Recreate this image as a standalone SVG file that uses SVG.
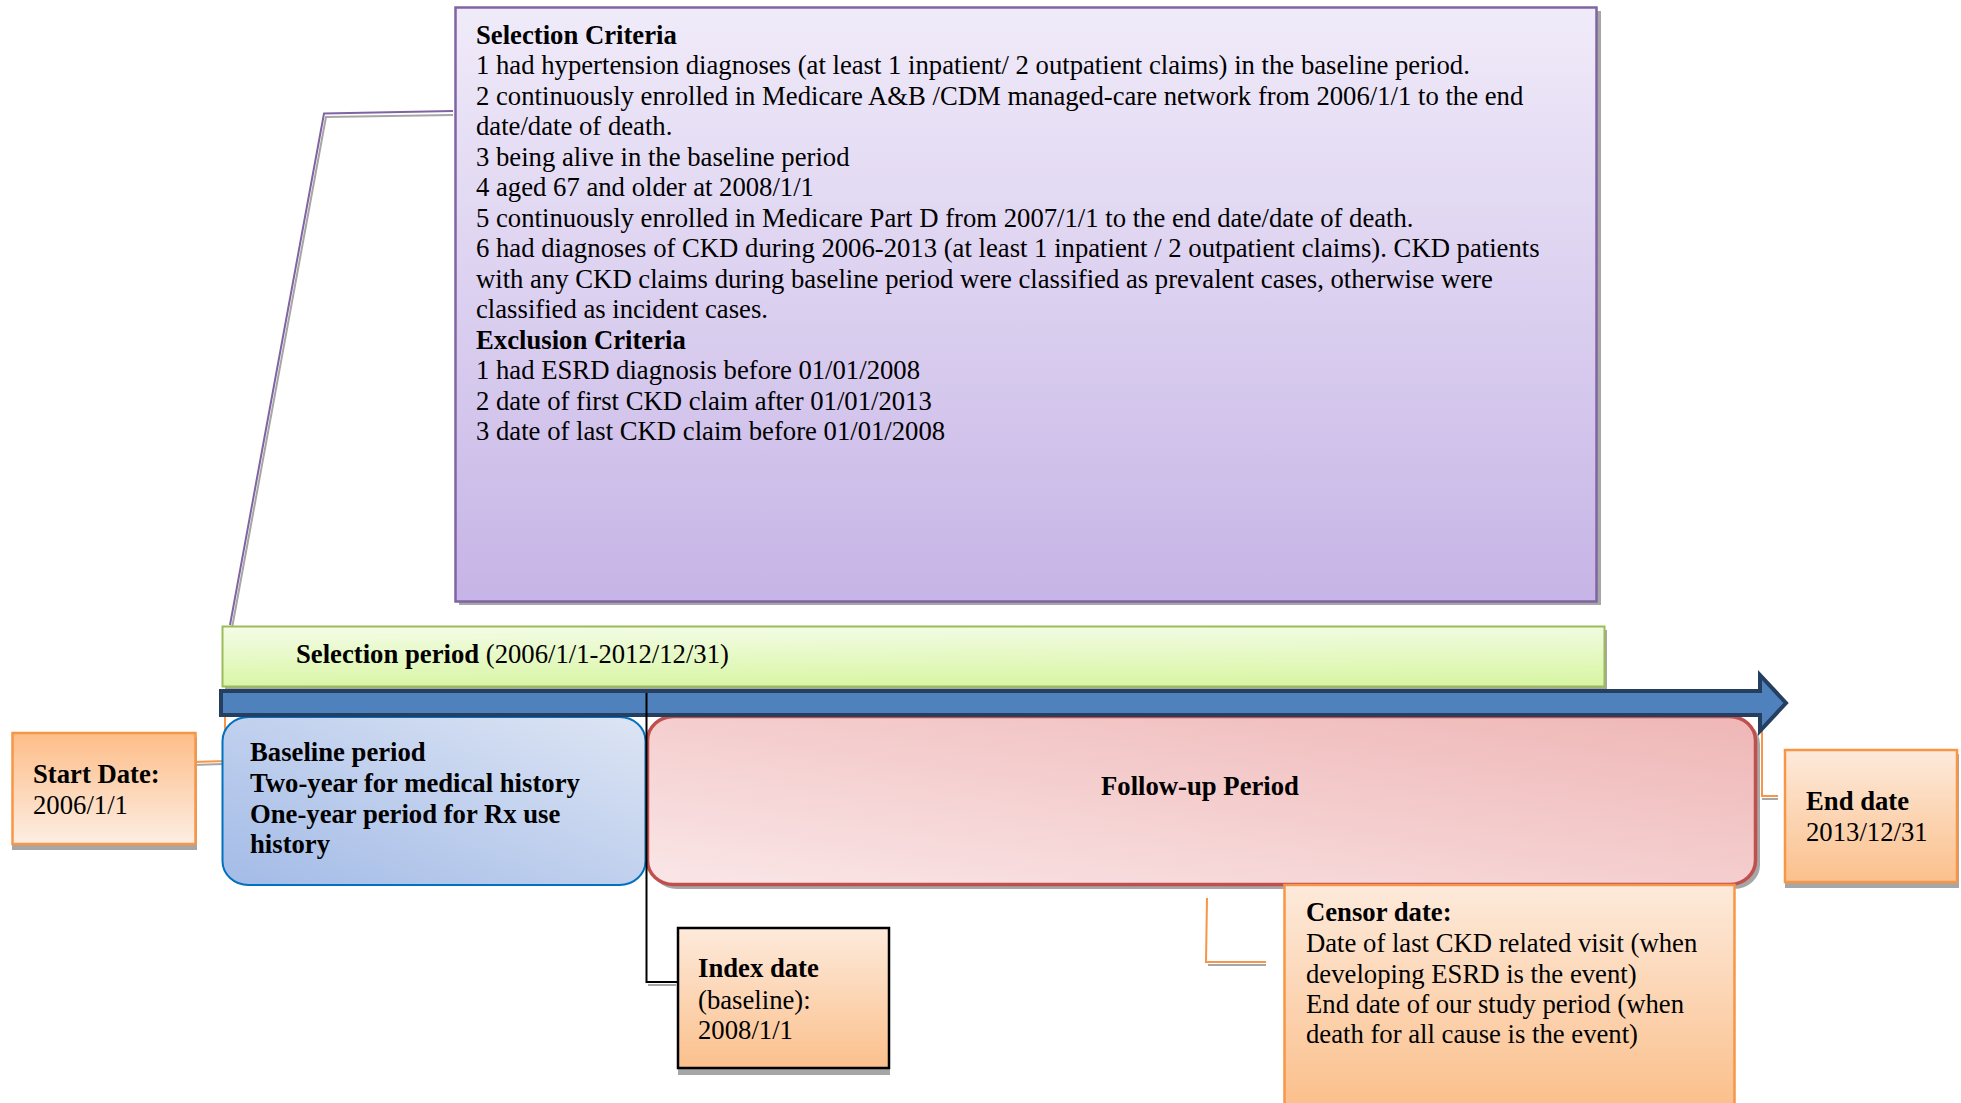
<svg xmlns="http://www.w3.org/2000/svg" width="1961" height="1103" viewBox="0 0 1961 1103">
<defs>
<linearGradient id="gPurple" x1="0" y1="0" x2="0" y2="1"><stop offset="0" stop-color="#F0EBF9"/><stop offset="1" stop-color="#C6B4E6"/></linearGradient>
<linearGradient id="gGreen" x1="0" y1="0" x2="0.1" y2="1"><stop offset="0" stop-color="#F4FCE7"/><stop offset="1" stop-color="#D9F6A6"/></linearGradient>
<linearGradient id="gBlue" x1="1" y1="0" x2="0" y2="1"><stop offset="0" stop-color="#DDE5F4"/><stop offset="1" stop-color="#A3BBE7"/></linearGradient>
<linearGradient id="gPink" x1="1" y1="0" x2="0" y2="1"><stop offset="0" stop-color="#EFB6B6"/><stop offset="1" stop-color="#FAE6E7"/></linearGradient>
<linearGradient id="gOrange" x1="0" y1="0" x2="0" y2="1"><stop offset="0" stop-color="#FDEADB"/><stop offset="1" stop-color="#FBC08C"/></linearGradient>
<linearGradient id="gOrangeInv" x1="0" y1="0" x2="0" y2="1"><stop offset="0" stop-color="#FDBD88"/><stop offset="1" stop-color="#FDEEE3"/></linearGradient>
</defs>
<style>
text{font-family:"Liberation Serif","Times New Roman",serif;font-size:26.7px;fill:#000}
.b{font-weight:bold}
.sh{fill:#A6A6A6}
.shl{fill:none;stroke:#A6A6A6;stroke-width:2}
.orange{stroke:#F79646;stroke-width:2.5}
.conn{fill:none;stroke-width:2}
</style>
<rect width="1961" height="1103" fill="#FFFFFF"/>

<g id="connectors">
  <polyline class="shl" points="232,628 326,117 453,115"/>
  <polyline class="conn" stroke="#8064A2" points="230,625 324,113.5 453,111"/>
  <polyline class="shl" points="193,765 223,764"/>
  <polyline class="conn" stroke="#F79646" points="193,762 225,761 225,717"/>
  <polyline class="shl" points="1208,965 1266,965"/>
  <polyline class="conn" stroke="#F79646" points="1207,898 1206,962 1266,962"/>
  <polyline class="shl" points="1762,799 1778,799"/>
  <polyline class="conn" stroke="#F79646" points="1762,730 1762,796 1778,796"/>
</g>

<g id="selection-criteria">
  <rect class="sh" x="459" y="11" width="1142" height="594"/>
  <rect x="455.5" y="7.5" width="1141" height="594" fill="url(#gPurple)" stroke="#8064A2" stroke-width="2.5"/>
  <text x="476" y="43.5" class="b">Selection Criteria</text>
  <text x="476" y="74">1 had hypertension diagnoses (at least 1 inpatient/ 2 outpatient claims) in the baseline period.</text>
  <text x="476" y="104.5">2 continuously enrolled in Medicare A&amp;B /CDM managed-care network from 2006/1/1 to the end</text>
  <text x="476" y="135">date/date of death.</text>
  <text x="476" y="165.5">3 being alive in the baseline period</text>
  <text x="476" y="196">4 aged 67 and older at 2008/1/1</text>
  <text x="476" y="226.5">5 continuously enrolled in Medicare Part D from 2007/1/1 to the end date/date of death.</text>
  <text x="476" y="257">6 had diagnoses of CKD during 2006-2013 (at least 1 inpatient / 2 outpatient claims). CKD patients</text>
  <text x="476" y="287.5">with any CKD claims during baseline period were classified as prevalent cases, otherwise were</text>
  <text x="476" y="318">classified as incident cases.</text>
  <text x="476" y="348.5" class="b">Exclusion Criteria</text>
  <text x="476" y="379">1 had ESRD diagnosis before 01/01/2008</text>
  <text x="476" y="409.5">2 date of first CKD claim after 01/01/2013</text>
  <text x="476" y="440">3 date of last CKD claim before 01/01/2008</text>
</g>

<g id="selection-period">
  <rect class="sh" x="225" y="630" width="1382" height="60"/>
  <rect x="222.5" y="626.5" width="1382" height="60" fill="url(#gGreen)" stroke="#9BBB59" stroke-width="2"/>
  <text x="296" y="663"><tspan class="b">Selection period</tspan> (2006/1/1-2012/12/31)</text>
</g>

<g id="baseline-period">
  <rect x="222.5" y="717" width="423" height="168" rx="26" ry="24" fill="url(#gBlue)" stroke="#0070C0" stroke-width="2"/>
  <text x="250" y="761" class="b">Baseline period</text>
  <text x="250" y="791.5" class="b">Two-year for medical history</text>
  <text x="250" y="822.5" class="b">One-year period for Rx use</text>
  <text x="250" y="852.5" class="b">history</text>
</g>

<g id="follow-up-period">
  <rect class="sh" x="651" y="720" width="1109" height="169" rx="26" ry="24"/>
  <rect x="647.5" y="716.5" width="1108" height="168" rx="26" ry="24" fill="url(#gPink)" stroke="#C0504D" stroke-width="3.5"/>
  <text x="1200" y="795" class="b" text-anchor="middle">Follow-up Period</text>
</g>

<g id="timeline-arrow">
  <polygon points="221,691 1760,691 1760,675 1786,703 1760,731 1760,715 221,715" fill="#4F81BD" stroke="#243F60" stroke-width="4" stroke-linejoin="miter"/>
</g>

<g id="index-connector">
  <polyline class="shl" points="648,985 676,985"/>
  <polyline class="conn" stroke="#000000" points="646.5,693 646.5,982 677,982"/>
</g>

<g id="start-date">
  <rect class="sh" x="12" y="737" width="185" height="113"/>
  <rect x="12.5" y="733" width="183" height="111" fill="url(#gOrangeInv)" class="orange"/>
  <text x="33" y="783" class="b">Start Date:</text>
  <text x="33" y="813.5">2006/1/1</text>
</g>

<g id="index-date">
  <rect class="sh" x="678" y="932" width="212" height="143"/>
  <rect x="678" y="928" width="211" height="140" fill="url(#gOrange)" stroke="#000000" stroke-width="2.5"/>
  <text x="698" y="977" class="b">Index date</text>
  <text x="698" y="1008.5">(baseline):</text>
  <text x="698" y="1038.5">2008/1/1</text>
</g>

<g id="censor-date">
  <rect x="1284.5" y="885" width="450" height="220" fill="url(#gOrange)" class="orange"/>
  <text x="1306" y="921" class="b">Censor date:</text>
  <text x="1306" y="951.5">Date of last CKD related visit (when</text>
  <text x="1306" y="982.5">developing ESRD is the event)</text>
  <text x="1306" y="1012.5">End date of our study period (when</text>
  <text x="1306" y="1042.5">death for all cause is the event)</text>
</g>

<g id="end-date">
  <rect class="sh" x="1785" y="754" width="174" height="134"/>
  <rect x="1785" y="750" width="172" height="132" fill="url(#gOrange)" class="orange"/>
  <text x="1806" y="810" class="b">End date</text>
  <text x="1806" y="841">2013/12/31</text>
</g>
</svg>
